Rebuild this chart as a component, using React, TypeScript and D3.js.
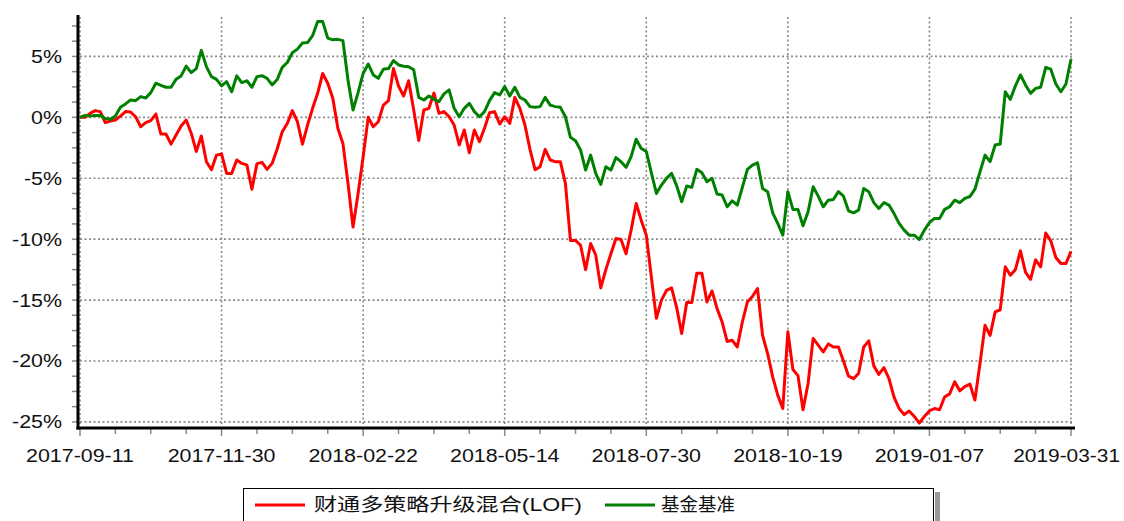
import * as d3 from "d3";

const W = 1124;
const H = 521;

// x tick labels (evenly spaced trading-day positions)
const dateLabels = [
  "2017-09-11",
  "2017-11-30",
  "2018-02-22",
  "2018-05-14",
  "2018-07-30",
  "2018-10-19",
  "2019-01-07",
  "2019-03-31",
];

const yTicks = [5, 0, -5, -10, -15, -20, -25];

const seriesNames = ["财通多策略升级混合(LOF)", "基金基准"];
const seriesColors = ["#ff0000", "#008000"];

// cumulative return, %
const fund = [
  0, 0, 0.33, 0.55, 0.47, -0.44, -0.3, -0.22, 0.1, 0.47,
  0.44, 0.05, -0.77, -0.44, -0.27, 0.27, -1.37, -1.37, -2.2, -1.45,
  -0.71, -0.22, -1.3, -2.8, -1.53, -3.64, -4.3, -3.1, -3.0, -4.6,
  -4.6, -3.5, -3.78, -3.9, -5.9, -3.8, -3.7, -4.27, -3.78, -2.6,
  -1.18, -0.5, 0.55, -0.36, -2.2, -0.63, 0.74, 1.97, 3.6, 2.8,
  1.56, -0.9, -2.14, -5.4, -9.0, -6.25, -3.23, 0, -0.77, -0.36,
  1.0, 1.37, 4.0, 2.57, 1.75, 3.0, 0.6, -1.9, 0.6, 0.74,
  2.0, 0.33, 0.47, 0.05, -0.63, -2.27, -1.04, -2.9, -1.04, -2.0,
  -0.9, 0.38, 0.47, -0.55, 0.05, -0.5, 1.64, 0.74, -0.63, -2.63,
  -4.3, -4.05, -2.63, -3.5, -3.64, -3.64, -5.4, -10.1, -10.1, -10.5,
  -12.5, -10.36, -11.3, -14.0, -12.5, -11.2, -9.95, -10.03, -11.2, -9.26,
  -7.07, -8.44, -9.67, -13.1, -16.5, -15.0, -14.2, -14.0, -15.6, -17.75,
  -15.2, -15.2, -12.8, -12.8, -15.15, -14.25, -15.7, -16.8, -18.4, -18.3,
  -18.85, -16.8, -15.15, -14.7, -14.05, -17.9, -19.4, -21.3, -22.8, -23.9,
  -17.6, -20.7, -21.2, -24.0, -21.85, -18.15, -18.7, -19.26, -18.6, -18.85,
  -18.85, -20.0, -21.25, -21.45, -21.0, -18.85, -18.35, -20.4, -21.1, -20.55,
  -21.45, -22.96, -23.9, -24.4, -24.1, -24.55, -25.1, -24.55, -24.1, -23.9,
  -24.0, -22.96, -22.7, -21.7, -22.45, -22.1, -21.9, -23.2, -20.2, -17.07,
  -17.9, -15.97, -15.8, -12.27, -12.96, -12.5, -10.96, -12.7, -13.3, -11.7,
  -12.27, -9.5, -10.14, -11.5, -12.0, -12.0, -11.0,
];

const benchmark = [
  0, 0.16, 0.1, 0.16, 0.16, -0.1, -0.16, 0.1, 0.82, 1.1,
  1.42, 1.37, 1.7, 1.59, 2.03, 2.8, 2.63, 2.47, 2.47, 3.12,
  3.4, 4.2, 3.67, 4.0, 5.5, 4.16, 3.34, 3.12, 2.58, 2.93,
  2.1, 3.4, 2.85, 3.0, 2.47, 3.34, 3.42, 3.2, 2.66, 3.1,
  4.1, 4.5, 5.3, 5.6, 6.1, 6.14, 6.7, 7.86, 7.86, 6.5,
  6.36, 6.4, 6.3, 3.07, 0.6, 2.03, 3.6, 4.38, 3.48, 3.2,
  3.95, 4.0, 4.66, 4.3, 4.2, 4.16, 3.9, 1.64, 1.42, 1.75,
  1.48, 1.29, 1.92, 2.25, 0.74, 0.05, 0.74, 1.15, 0.47, 0.05,
  0.47, 1.37, 2.03, 1.84, 2.52, 1.75, 2.47, 1.64, 1.42, 0.88,
  0.82, 0.88, 1.64, 1.0, 0.88, 0.82, 0.05, -1.64, -1.92, -2.68,
  -4.33, -3.1, -4.6, -5.5, -4.05, -4.33, -3.3, -3.64, -4.1, -3.23,
  -1.8, -2.55, -2.8, -4.55, -6.25, -5.56, -5.0, -4.6, -5.6, -6.93,
  -5.64, -5.75, -4.27, -4.55, -5.29, -5.0, -6.3, -6.38, -7.34, -6.85,
  -7.2, -5.75, -4.27, -3.92, -3.73, -5.84, -6.1, -7.84, -8.7, -9.67,
  -6.1, -7.56, -7.56, -8.9, -7.75, -5.7, -6.47, -7.34, -6.8, -6.74,
  -6.1, -6.47, -7.67, -7.84, -7.6, -5.84, -6.1, -7.0, -7.48, -7.0,
  -7.2, -7.9, -8.7, -9.26, -9.67, -9.67, -10.03, -9.26, -8.65, -8.3,
  -8.3, -7.56, -7.34, -6.8, -7.0, -6.65, -6.5, -5.9, -4.47, -3.1,
  -3.64, -2.27, -2.19, 2.1, 1.48, 2.58, 3.48, 2.66, 1.97, 2.38,
  2.47, 4.1, 3.95, 2.74, 2.1, 2.74, 4.77,
];

const font = "'Liberation Sans', Arial, 'Noto Sans CJK SC', sans-serif";
const stretch = 1.19;

const App = () => {
  const n = fund.length;
  const left = 78;
  const bottom = 428;
  const top = 15;

  const x = d3.scaleLinear().domain([0, n - 1]).range([80, 1071]);
  const y = d3.scaleLinear().domain([-25.5, 8.4]).range([bottom, top]);

  const step = (n - 1) / (dateLabels.length - 1);
  const majorX = dateLabels.map((_, i) => i * step);
  const minorX = d3.range(0, (dateLabels.length - 1) * 4 + 1).map((i) => (i * step) / 4);
  const minorY = d3.range(-25, 8.4, 1.25);

  const line = d3
    .line<number>()
    .x((_, i) => x(i))
    .y((d) => y(d));

  return (
    <svg
      width={W}
      height={H}
      viewBox={`0 0 ${W} ${H}`}
      style={{ position: "absolute", left: 0, top: 0, background: "#fff" }}
      fontFamily={font}
    >
      {/* grid */}
      <g stroke="#8a8a8a" strokeWidth={1.6} strokeDasharray="2,2.5">
        {yTicks.map((t) => (
          <line key={t} x1={left + 2} x2={1073} y1={y(t)} y2={y(t)} />
        ))}
        {majorX.map((t) => (
          <line key={t} x1={x(t)} x2={x(t)} y1={top + 2} y2={bottom - 2} />
        ))}
      </g>

      {/* axis ticks */}
      <g stroke="#8a8a8a" strokeWidth={1.5}>
        {minorY.map((t) => (
          <line key={t} x1={72} x2={77} y1={y(t)} y2={y(t)} />
        ))}
        {minorX.map((t, i) => (
          <line key={i} x1={x(t)} x2={x(t)} y1={429} y2={i % 4 === 0 ? 436 : 434} />
        ))}
      </g>

      {/* series */}
      <path d={line(fund) ?? ""} fill="none" stroke={seriesColors[0]} strokeWidth={3} strokeLinejoin="round" />
      <path d={line(benchmark) ?? ""} fill="none" stroke={seriesColors[1]} strokeWidth={3} strokeLinejoin="round" />

      {/* axes */}
      <line x1={left} x2={left} y1={top} y2={bottom + 1.5} stroke="#000" strokeWidth={3} />
      <line x1={left - 1.5} x2={1075} y1={bottom} y2={bottom} stroke="#000" strokeWidth={3} />

      {/* y labels */}
      {yTicks.map((t) => (
        <text
          key={t}
          transform={`translate(62,${y(t) + 6.5}) scale(${stretch},1)`}
          textAnchor="end"
          fontSize={18}
          fill="#111"
        >
          {`${t}%`}
        </text>
      ))}

      {/* x labels; the last one is kept inside the page edge */}
      {dateLabels.map((d, i) => {
        const last = i === dateLabels.length - 1;
        return (
          <text
            key={d}
            transform={`translate(${last ? 1120 : x(majorX[i])},462) scale(${last ? 1.16 : stretch},1)`}
            textAnchor={last ? "end" : "middle"}
            fontSize={18}
            fill="#111"
          >
            {d}
          </text>
        );
      })}

      {/* legend */}
      <rect x={935} y={492} width={5} height={40} fill="#9a9a9a" />
      <rect x={243.5} y={488.5} width={690} height={40} fill="#fff" stroke="#000" strokeWidth={1} />
      <line x1={255} x2={305} y1={505} y2={505} stroke={seriesColors[0]} strokeWidth={3} />
      <text
        x={314}
        y={511}
        fontSize={18}
        fill="#111"
        textLength={268}
        lengthAdjust="spacingAndGlyphs"
      >
        {seriesNames[0]}
      </text>
      <line x1={605} x2={655} y1={505} y2={505} stroke={seriesColors[1]} strokeWidth={3} />
      <text
        x={661}
        y={511}
        fontSize={18}
        fill="#111"
        textLength={74}
        lengthAdjust="spacingAndGlyphs"
      >
        {seriesNames[1]}
      </text>
    </svg>
  );
};

export default App;
